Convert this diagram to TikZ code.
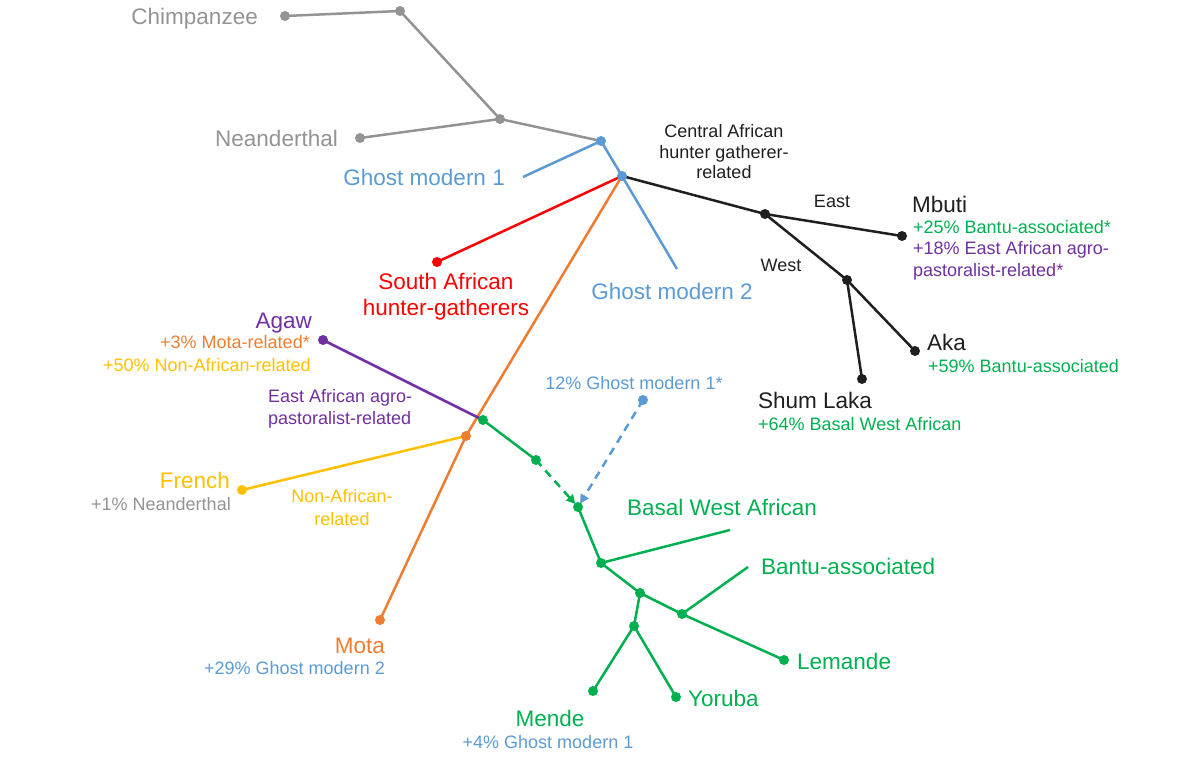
\documentclass[tikz,border=0pt]{standalone}
\usepackage{fontspec}
\setmainfont{Liberation Sans}
\usetikzlibrary{arrows.meta,backgrounds}
\definecolor{cgray}{HTML}{939393}
\definecolor{cblue}{HTML}{5B9BD5}
\definecolor{cred}{HTML}{FF0000}
\definecolor{corange}{HTML}{ED7D31}
\definecolor{cblack}{HTML}{1F1F1F}
\definecolor{cpurple}{HTML}{7030A0}
\definecolor{cyellow}{HTML}{FFC000}
\definecolor{cgreen}{HTML}{00B050}
\begin{document}
\begin{tikzpicture}[x=1pt,y=-1pt,
  dot/.style={circle,fill=#1,inner sep=0pt,minimum size=10pt},
  br/.style={draw=#1,line width=2.5pt},
  mig/.style={draw=#1,line width=2.5pt,dash pattern=on 8pt off 6pt,
    -{Triangle[length=9pt,width=9pt]},shorten >=4pt},
  big/.style={font=\fontsize{22.5}{26}\selectfont,inner sep=0pt},
  small/.style={font=\fontsize{18}{21.5}\selectfont,inner sep=0pt},
]
\useasboundingbox (0,0) rectangle (1200,762);
% ---- nodes (dots)
\node[dot=cgray] (chimp) at (285,16) {};
\node[dot=cgray] (g1) at (400,11) {};
\node[dot=cgray] (g2) at (500,119) {};
\node[dot=cgray] (nean) at (360,138) {};
\node[dot=cblue] (b1) at (601,141) {};
\node[dot=cblue] (b2) at (622,176) {};
\coordinate (gm1) at (523,177);
\coordinate (gm2) at (677,269);
\node[dot=cred] (sa) at (437,262) {};
\node[dot=corange] (o1) at (466,436) {};
\node[dot=corange] (mota) at (380,620) {};
\node[dot=cblack] (k1) at (765,214) {};
\node[dot=cblack] (mbuti) at (902,236) {};
\node[dot=cblack] (k2) at (847,280) {};
\node[dot=cblack] (aka) at (915,351) {};
\node[dot=cblack] (shum) at (862,379) {};
\node[dot=cpurple] (agaw) at (323,340) {};
\node[dot=cgreen] (e1) at (483,420) {};
\node[dot=cyellow] (french) at (242,490) {};
\node[dot=cgreen] (e2) at (536,460) {};
\node[dot=cblue] (gh) at (643,400) {};
\node[dot=cgreen] (w1) at (578,507) {};
\node[dot=cgreen] (w2) at (601,563) {};
\coordinate (bwa) at (730,530);
\node[dot=cgreen] (w3) at (640,593) {};
\node[dot=cgreen] (w4) at (682,614) {};
\coordinate (ban) at (748,567);
\node[dot=cgreen] (lem) at (784,660) {};
\node[dot=cgreen] (w5) at (634,626) {};
\node[dot=cgreen] (mende) at (593,691) {};
\node[dot=cgreen] (yor) at (676,697) {};
% ---- branches
\begin{scope}[on background layer]
\draw[br=cgray] (chimp.center) -- (g1.center) -- (g2.center) -- (b1.center);
\draw[br=cgray] (nean.center) -- (g2.center);
\draw[br=cblue] (gm1) -- (b1.center) -- (b2.center) -- (gm2);
\draw[br=cred] (b2.center) -- (sa.center);
\draw[br=corange] (b2.center) -- (o1.center) -- (mota.center);
\draw[br=cblack] (b2.center) -- (k1.center) -- (mbuti.center);
\draw[br=cblack] (k1.center) -- (k2.center) -- (aka.center);
\draw[br=cblack] (k2.center) -- (shum.center);
\draw[br=cpurple] (agaw.center) -- (e1.center);
\draw[br=cyellow] (french.center) -- (o1.center);
\draw[br=cgreen] (e1.center) -- (e2.center);
\draw[mig=cgreen] (e2.center) -- (w1.center);
\draw[mig=cblue] (gh.center) -- (w1.center);
\draw[br=cgreen] (w1.center) -- (w2.center) -- (bwa);
\draw[br=cgreen] (w2.center) -- (w3.center) -- (w4.center) -- (lem.center);
\draw[br=cgreen] (w4.center) -- (ban);
\draw[br=cgreen] (w3.center) -- (w5.center) -- (mende.center);
\draw[br=cgreen] (w5.center) -- (yor.center);
\end{scope}
% ---- labels
\node[big,text=cgray,anchor=base east] (lchimp) at (258,25) {Chimpanzee};
\node[big,text=cgray,anchor=base east] (lnean) at (338,147) {Neanderthal};
\node[big,text=cblue,anchor=base east] (lgm1) at (505,186) {Ghost modern 1};
\node[big,text=cblue,anchor=base] (lgm2) at (672,299) {Ghost modern 2};
\node[big,text=cred,align=center,font=\fontsize{22.5}{26}\selectfont] (lsa) at (446,297) {South African\\hunter-gatherers};
\node[small,text=cblack,align=center,font=\fontsize{18}{20.5}\selectfont] (lcah) at (724,152) {Central African\\hunter gatherer-\\related};
\node[small,text=cblack,anchor=base] (least) at (832,208) {East};
\node[small,text=cblack,anchor=base] (lwest) at (781,272) {West};
\node[big,text=cblack,anchor=base west] (lmbuti) at (912,213) {Mbuti};
\node[small,text=cgreen,anchor=base west] (lmb1) at (913,234) {+25\% Bantu-associated*};
\node[small,text=cpurple,anchor=north west,align=left,font=\fontsize{18}{22}\selectfont] (lmb2) at (913,241) {+18\% East African agro-\\pastoralist-related*};
\node[big,text=cblack,anchor=base west] (laka) at (927,350) {Aka};
\node[small,text=cgreen,anchor=base west] (laka1) at (928,372) {+59\% Bantu-associated};
\node[big,text=cblack,anchor=base west] (lshum) at (758,408) {Shum Laka};
\node[small,text=cgreen,anchor=base west] (lshum1) at (758,430) {+64\% Basal West African};
\node[big,text=cpurple,anchor=base east] (lagaw) at (312,328) {Agaw};
\node[small,text=corange,anchor=base east] (lagaw1) at (310,348) {+3\% Mota-related*};
\node[small,text=cyellow,anchor=base east] (lagaw2) at (311,371) {+50\% Non-African-related};
\node[small,text=cpurple,align=left,anchor=west,font=\fontsize{18}{22}\selectfont] (leaf) at (268,409) {East African agro-\\pastoralist-related};
\node[big,text=cyellow,anchor=base east] (lfrench) at (230,488) {French};
\node[small,text=cgray,anchor=base east] (lfrench1) at (231,510) {+1\% Neanderthal};
\node[small,text=cyellow,align=center,font=\fontsize{18}{23}\selectfont] (lnar) at (342,508) {Non-African-\\related};
\node[small,text=cblue,anchor=base] (lgh) at (634,389) {12\% Ghost modern 1*};
\node[big,text=cgreen,anchor=base west] (lbwa) at (627,515) {Basal West African};
\node[big,text=cgreen,anchor=base west] (lban) at (761,574) {Bantu-associated};
\node[big,text=cgreen,anchor=base west] (llem) at (797,669) {Lemande};
\node[big,text=cgreen,anchor=base west] (lyor) at (688,706) {Yoruba};
\node[big,text=cgreen,anchor=base] (lmende) at (550,726) {Mende};
\node[small,text=cblue,anchor=base] (lmende1) at (548,748) {+4\% Ghost modern 1};
\node[big,text=corange,anchor=base east] (lmota) at (385,653) {Mota};
\node[small,text=cblue,anchor=base east] (lmota1) at (385,674) {+29\% Ghost modern 2};
\end{tikzpicture}
\end{document}
